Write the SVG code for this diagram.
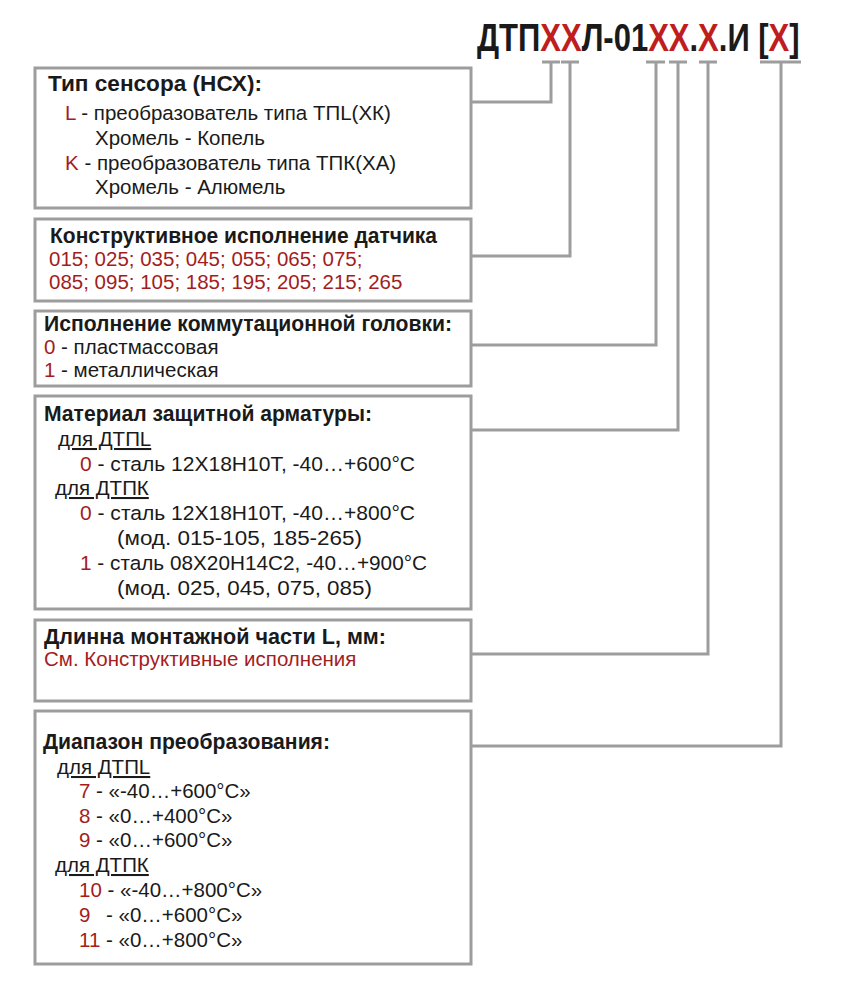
<svg xmlns="http://www.w3.org/2000/svg" width="845" height="996" viewBox="0 0 845 996">
<style>
.bg{fill:#ffffff}
.box{fill:#ffffff;stroke:#9d9d9d;stroke-width:3}
.con{fill:none;stroke:#9d9d9d;stroke-width:3}
.t{font-family:"Liberation Sans",Arial,sans-serif;font-size:20.5px;fill:#1a1a1a}
.h{font-family:"Liberation Sans",Arial,sans-serif;font-size:22px;font-weight:bold;fill:#1a1a1a}
.r{fill:#a31d1d}
.u{text-decoration:underline}
.title{font-family:"Liberation Sans",Arial,sans-serif;font-size:31px;font-weight:bold;fill:#1a1a1a}
.tr{fill:#bf1e1e}
</style>
<rect class="bg" x="0" y="0" width="845" height="996"/>
<g id="title" transform="translate(0,-12.75) scale(1,1.25)">
<text class="title" x="477" y="51">ДТП<tspan class="tr">XX</tspan>Л-01<tspan class="tr">XX</tspan>.<tspan class="tr">X</tspan>.И [<tspan class="tr">X</tspan>]</text>
</g>
<g id="connectors">
<path class="con" d="M542 62H560M551 62V102H472"/>
<path class="con" d="M561 62H579M570 62V256H472"/>
<path class="con" d="M646 62H665M656 62V345H472"/>
<path class="con" d="M669 62H687M678 62V430H472"/>
<path class="con" d="M699 62H717M708 62V654H472"/>
<path class="con" d="M760 62H801M781 62V746H472"/>
</g>
<g id="sensor-type">
<rect class="box" x="35" y="68" width="436" height="140"/>
<text class="h" x="48" y="91" textLength="214" lengthAdjust="spacingAndGlyphs">Тип сенсора (НСХ):</text>
<text class="t" x="65" y="120"><tspan class="r">L</tspan> - преобразователь типа ТПL(ХК)</text>
<text class="t" x="95" y="145">Хромель - Копель</text>
<text class="t" x="65" y="170"><tspan class="r">K</tspan> - преобразователь типа ТПК(ХА)</text>
<text class="t" x="95" y="194">Хромель - Алюмель</text>
</g>
<g id="design">
<rect class="box" x="35" y="219" width="436" height="82"/>
<text class="h" x="50" y="243" textLength="387" lengthAdjust="spacingAndGlyphs">Конструктивное исполнение датчика</text>
<text class="t r" x="49" y="266">015; 025; 035; 045; 055; 065; 075;</text>
<text class="t r" x="49" y="289">085; 095; 105; 185; 195; 205; 215; 265</text>
</g>
<g id="head">
<rect class="box" x="35" y="311" width="436" height="75"/>
<text class="h" x="44" y="331" textLength="408" lengthAdjust="spacingAndGlyphs">Исполнение коммутационной головки:</text>
<text class="t" x="44" y="354"><tspan class="r">0</tspan> - пластмассовая</text>
<text class="t" x="44" y="377"><tspan class="r">1</tspan> - металлическая</text>
</g>
<g id="material">
<rect class="box" x="35" y="396" width="436" height="213"/>
<text class="h" x="44" y="421" textLength="328" lengthAdjust="spacingAndGlyphs">Материал защитной арматуры:</text>
<text class="t u" x="58" y="446">для ДТПL</text>
<text class="t" x="80" y="471" textLength="335" lengthAdjust="spacingAndGlyphs"><tspan class="r">0</tspan> - сталь 12Х18Н10Т, -40…+600°С</text>
<text class="t u" x="55" y="495">для ДТПК</text>
<text class="t" x="80" y="520" textLength="335" lengthAdjust="spacingAndGlyphs"><tspan class="r">0</tspan> - сталь 12Х18Н10Т, -40…+800°С</text>
<text class="t" x="117" y="545" textLength="245" lengthAdjust="spacingAndGlyphs">(мод. 015-105, 185-265)</text>
<text class="t" x="80" y="570" textLength="347" lengthAdjust="spacingAndGlyphs"><tspan class="r">1</tspan> - сталь 08Х20Н14С2, -40…+900°С</text>
<text class="t" x="117" y="595" textLength="255" lengthAdjust="spacingAndGlyphs">(мод. 025, 045, 075, 085)</text>
</g>
<g id="length">
<rect class="box" x="35" y="620" width="436" height="81"/>
<text class="h" x="44" y="644" textLength="342" lengthAdjust="spacingAndGlyphs">Длинна монтажной части L, мм:</text>
<text class="t r" x="44" y="666">См. Конструктивные исполнения</text>
</g>
<g id="range">
<rect class="box" x="35" y="711" width="436" height="253"/>
<text class="h" x="43" y="749" textLength="287" lengthAdjust="spacingAndGlyphs">Диапазон преобразования:</text>
<text class="t u" x="57" y="774">для ДТПL</text>
<text class="t" x="79" y="798"><tspan class="r">7</tspan> - «-40…+600°С»</text>
<text class="t" x="79" y="823"><tspan class="r">8</tspan> - «0…+400°С»</text>
<text class="t" x="79" y="847"><tspan class="r">9</tspan> - «0…+600°С»</text>
<text class="t u" x="55" y="872">для ДТПК</text>
<text class="t" x="79" y="897"><tspan class="r">10</tspan> - «-40…+800°С»</text>
<text class="t" x="79" y="922"><tspan class="r">9</tspan><tspan x="106">- «0…+600°С»</tspan></text>
<text class="t" x="79" y="947"><tspan class="r">11</tspan> - «0…+800°С»</text>
</g>
</svg>
